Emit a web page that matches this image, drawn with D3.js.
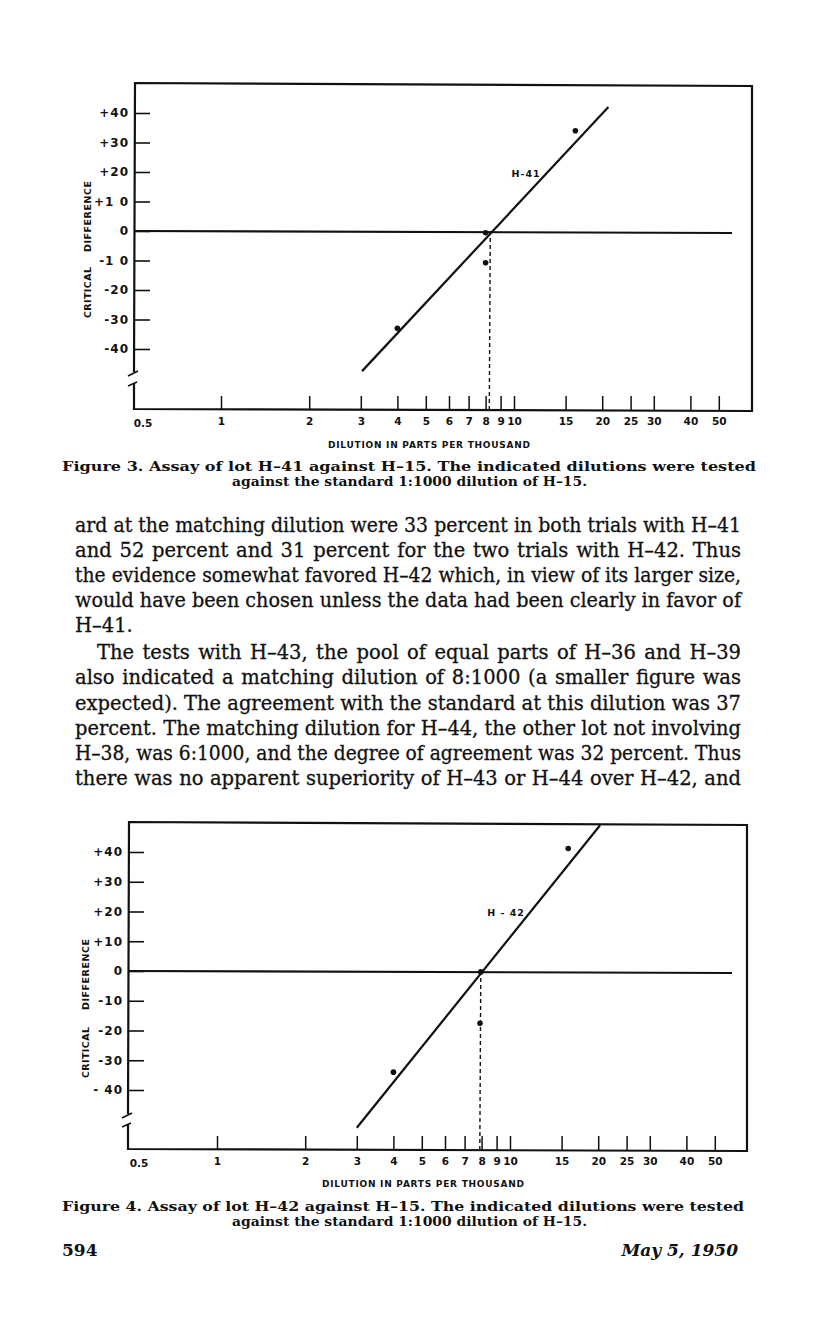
<!DOCTYPE html>
<html>
<head>
<meta charset="utf-8">
<script src="https://cdnjs.cloudflare.com/ajax/libs/d3/7.8.5/d3.min.js"></script>
<style>
  body { margin: 0; background: #fff; }
  svg { display: block; }
  .lab { font-family: "DejaVu Sans", sans-serif; font-weight: bold; fill: #111; }
  .serif { font-family: "DejaVu Serif", serif; fill: #111; }
</style>
</head>
<body>
<svg id="page" width="816" height="1335"></svg>
<script>
// tick values and labels
let dilutionTicks = [1, 2, 3, 4, 5, 6, 7, 8, 9, 10, 15, 20, 25, 30, 40, 50]
let diffTicks = [40, 30, 20, 10, 0, -10, -20, -30, -40]
let diffLabels3 = ['+40', '+30', '+20', '+1 0', '0', '-1 0', '-20', '-30', '-40']
let diffLabels4 = ['+40', '+30', '+20', '+10', '0', '-10', '-20', '-30', '- 40']

// H-41 trials (figure 3)
let h41Dilution = [4.0, 8.0, 8.0, 16.2]
let h41Diff = [-33, -0.6, -10.8, 34]
let h41LineX = [3.03, 21.0]
let h41LineY = [-47.5, 42]
let h41Match = 8.3

// H-42 trials (figure 4)
let h42Dilution = [4.0, 7.95, 7.9, 15.8]
let h42Diff = [-34, -0.3, -17.6, 41.2]
let h42LineX = [3.0, 20.3]
let h42LineY = [-52.7, 49]
let h42Match = 7.95

let bodyLines = [
  'ard at the matching dilution were 33 percent in both trials with H\u201341',
  'and 52 percent and 31 percent for the two trials with H\u201342.  Thus',
  'the evidence somewhat favored H\u201342 which, in view of its larger size,',
  'would have been chosen unless the data had been clearly in favor of',
  'H\u201341.',
  'The tests with H\u201343, the pool of equal parts of H\u201336 and H\u201339',
  'also indicated a matching dilution of 8:1000 (a smaller figure was',
  'expected).  The agreement with the standard at this dilution was 37',
  'percent.  The matching dilution for H\u201344, the other lot not involving',
  'H\u201338, was 6:1000, and the degree of agreement was 32 percent.  Thus',
  'there was no apparent superiority of H\u201343 or H\u201344 over H\u201342, and'
]

let svg = d3.select('#page')

let drawFigure = (f) => {
  let g = svg.append('g')
  let x = d3.scaleLog().domain([1, 10]).range(f.xr)
  let y = d3.scaleLinear().domain([0, 40]).range(f.yr)

  // frame with the break on the left side
  let frame = d3.path()
  frame.moveTo(f.left, f.breakTop)
  frame.lineTo(f.left + 1, f.top)
  frame.lineTo(f.right, f.top + 3)
  frame.lineTo(f.right, f.bottom + 1)
  frame.lineTo(f.left, f.bottom - 1)
  frame.lineTo(f.left, f.breakBottom)
  g.append('path').attr('d', frame.toString())
    .attr('fill', 'none').attr('stroke', '#111').attr('stroke-width', 2.2)
  g.append('line')
    .attr('x1', f.left - 6).attr('y1', f.breakTop + 4)
    .attr('x2', f.left + 4).attr('y2', f.breakTop - 1)
    .attr('stroke', '#111').attr('stroke-width', 1.6)
  g.append('line')
    .attr('x1', f.left - 6).attr('y1', f.breakBottom + 3)
    .attr('x2', f.left + 3).attr('y2', f.breakBottom - 1)
    .attr('stroke', '#111').attr('stroke-width', 1.6)

  // y axis
  let yAxis = g.append('g')
    .attr('transform', 'translate(' + f.left + ',0)')
    .call(d3.axisLeft(y).tickValues(diffTicks).tickSize(-16).tickPadding(5)
      .tickFormat((d, i) => f.yLabels[i]))
  yAxis.select('.domain').remove()
  yAxis.selectAll('line').attr('stroke', '#111').attr('stroke-width', 1.6)
  yAxis.selectAll('text').attr('class', 'lab').style('font-size', '12px')
    .style('letter-spacing', '1px').style('white-space', 'pre')

  // x axis
  let xAxis = g.append('g')
    .attr('transform', 'translate(0,' + f.bottom + ')')
    .call(d3.axisBottom(x).tickValues(dilutionTicks).tickSize(-14).tickPadding(8)
      .tickFormat(d3.format('d')))
  xAxis.select('.domain').remove()
  xAxis.selectAll('line').attr('stroke', '#111').attr('stroke-width', 1.5)
  xAxis.selectAll('text').attr('class', 'lab').style('font-size', '10.5px')
  g.append('text').attr('class', 'lab')
    .attr('x', x(0.5) + 1).attr('y', f.bottom + 17)
    .style('font-size', '10.5px')
    .text('0.5')

  // axis titles
  g.append('text').attr('class', 'lab')
    .attr('x', f.xTitle[0]).attr('y', f.xTitle[1])
    .attr('textLength', 202).attr('lengthAdjust', 'spacing')
    .style('font-size', '9px')
    .text('DILUTION IN PARTS PER THOUSAND')
  let yt = g.append('g')
    .attr('transform', 'translate(' + f.yTitle[0] + ',' + f.yTitle[1] + ') rotate(-90)')
  yt.append('text').attr('class', 'lab').attr('x', 0).attr('dy', '0.35em')
    .attr('textLength', 51).attr('lengthAdjust', 'spacing')
    .style('font-size', '9.5px').text('CRITICAL')
  yt.append('text').attr('class', 'lab').attr('x', f.yTitleGap).attr('dy', '0.35em')
    .attr('textLength', 71).attr('lengthAdjust', 'spacing')
    .style('font-size', '9.5px').text('DIFFERENCE')

  // zero reference line
  g.append('line')
    .attr('x1', f.left).attr('y1', y(0))
    .attr('x2', f.zeroEnd).attr('y2', y(0) + 2)
    .attr('stroke', '#111').attr('stroke-width', 2.2)

  // matching dilution
  g.append('line')
    .attr('x1', x(f.match)).attr('y1', y(0))
    .attr('x2', x(f.match) - 1).attr('y2', f.bottom - 1)
    .attr('stroke', '#111').attr('stroke-width', 1.4)
    .attr('stroke-dasharray', '4,3')

  // fitted line
  let fit = f.lineX.map((d, i) => [d, f.lineY[i]])
  g.append('path')
    .attr('d', d3.line().x((d) => x(d[0])).y((d) => y(d[1]))(fit))
    .attr('fill', 'none').attr('stroke', '#111').attr('stroke-width', 2.2)

  // trial points
  let pts = f.px.map((d, i) => [d, f.py[i]])
  g.selectAll('circle.pt').data(pts).enter().append('circle')
    .attr('class', 'pt')
    .attr('cx', (d) => x(d[0])).attr('cy', (d) => y(d[1]))
    .attr('r', 2.8).attr('fill', '#111')

  g.append('text').attr('class', 'lab')
    .attr('x', x(f.name[1])).attr('y', y(f.name[2]) + 4)
    .attr('text-anchor', 'middle')
    .style('font-size', '9.5px').style('letter-spacing', '1px')
    .text(f.name[0])

  // caption
  g.append('text').attr('class', 'serif')
    .attr('x', 62).attr('y', f.cap[0])
    .attr('textLength', f.cap[2]).attr('lengthAdjust', 'spacingAndGlyphs')
    .style('font-size', '12.6px').style('font-weight', 'bold')
    .text(f.caption[0])
  g.append('text').attr('class', 'serif')
    .attr('x', 232).attr('y', f.cap[1])
    .attr('textLength', 355).attr('lengthAdjust', 'spacingAndGlyphs')
    .style('font-size', '12.6px').style('font-weight', 'bold')
    .text(f.caption[1])
}

drawFigure({
  left: 134, top: 83, right: 752, bottom: 410, breakTop: 372, breakBottom: 383,
  xr: [221, 514], yr: [231, 113], zeroEnd: 732,
  yLabels: diffLabels3, px: h41Dilution, py: h41Diff,
  lineX: h41LineX, lineY: h41LineY, match: h41Match,
  name: ['H-41', 11, 19.5],
  xTitle: [328, 448], yTitle: [88, 318], yTitleGap: 66,
  cap: [471, 486, 694],
  caption: ['Figure 3.  Assay of lot H\u201341 against H\u201315.  The indicated dilutions were tested',
            'against the standard 1:1000 dilution of H\u201315.']
})

drawFigure({
  left: 128, top: 822, right: 747, bottom: 1150, breakTop: 1114, breakBottom: 1124,
  xr: [217, 510], yr: [971, 852], zeroEnd: 732,
  yLabels: diffLabels4, px: h42Dilution, py: h42Diff,
  lineX: h42LineX, lineY: h42LineY, match: h42Match,
  name: ['H - 42', 9.7, 20],
  xTitle: [322, 1187], yTitle: [86, 1078], yTitleGap: 68,
  cap: [1211, 1226, 682],
  caption: ['Figure 4.  Assay of lot H\u201342 against H\u201315.  The indicated dilutions were tested',
            'against the standard 1:1000 dilution of H\u201315.']
})

// body text, justified line by line
let bodyY = [532, 557, 582, 607, 632, 659, 684, 710, 735, 760, 785]
bodyLines.forEach((line, i) => {
  let indent = i === 5 ? 22 : 0
  let left = 75 + indent
  let width = 666 - indent
  let words = line.replace(/  /g, ' ')
  let t = svg.append('text').attr('class', 'serif')
    .attr('x', left).attr('y', bodyY[i])
    .style('font-size', '19.5px')
    .style('stroke', '#111').style('stroke-width', '0.3px')
    .text(words)
  if (i === 4) return
  let w = t.node().getComputedTextLength()
  let gaps = words.split(' ').length - 1
  if (w < width) {
    t.style('word-spacing', ((width - w) / gaps) + 'px')
  } else {
    t.attr('textLength', width).attr('lengthAdjust', 'spacingAndGlyphs')
  }
})

// page footer
svg.append('text').attr('class', 'serif')
  .attr('x', 62).attr('y', 1256)
  .style('font-size', '17px').style('font-weight', 'bold')
  .text('594')
svg.append('text').attr('class', 'serif')
  .attr('x', 738).attr('y', 1256).attr('text-anchor', 'end')
  .style('font-size', '17px').style('font-weight', 'bold').style('font-style', 'italic')
  .text('May 5, 1950')
</script>
</body>
</html>
